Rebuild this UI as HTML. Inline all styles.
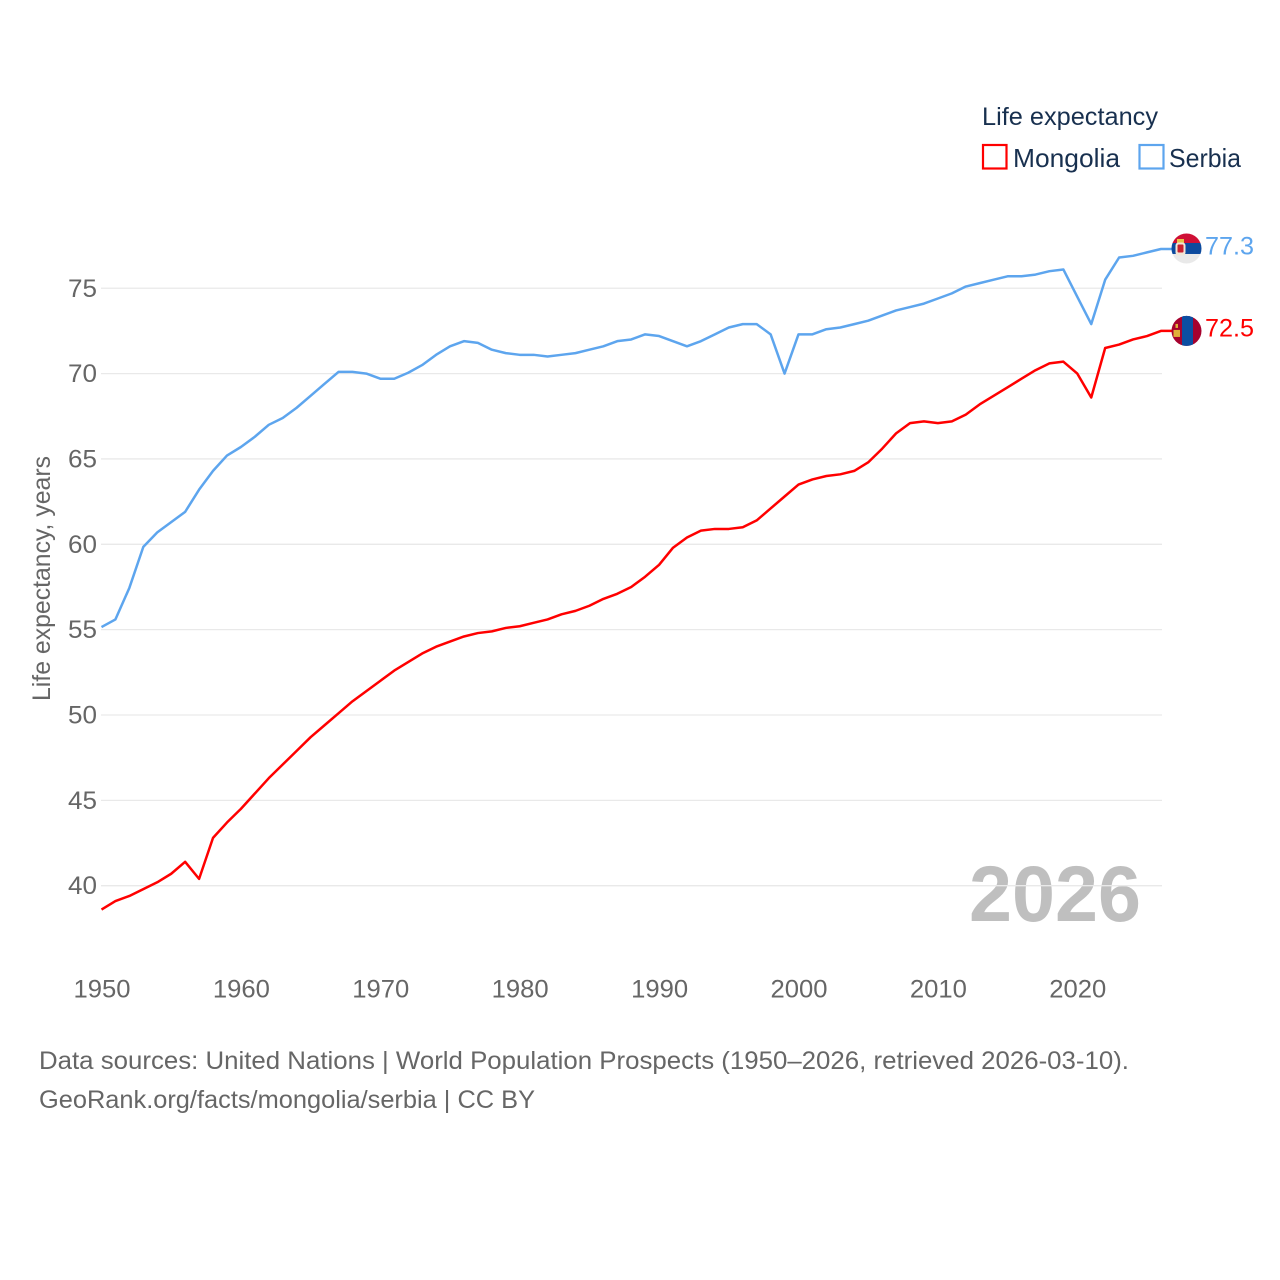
<!DOCTYPE html>
<html lang="en">
<head>
<meta charset="utf-8">
<title>Life expectancy: Mongolia and Serbia</title>
<style>
html,body{margin:0;padding:0;background:#fff;width:1280px;height:1280px;overflow:hidden}
svg{display:block}
text{font-family:"Liberation Sans",sans-serif}
</style>
</head>
<body>
<svg id="chart" xmlns="http://www.w3.org/2000/svg" width="1280" height="1280" viewBox="0 0 1280 1280">
  <defs>
    <clipPath id="clip-serbia"><circle id="clip-serbia-circle" r="15" cx="0" cy="0"/></clipPath>
    <clipPath id="clip-mongolia"><circle id="clip-mongolia-circle" r="15" cx="0" cy="0"/></clipPath>
  </defs>
  <rect width="1280" height="1280" fill="#fff"/>

  <g>
    <text x="982" y="125" font-size="25" fill="#18304f" textLength="176" lengthAdjust="spacingAndGlyphs">Life expectancy</text>
    <rect x="983" y="145" width="23.5" height="23.5" fill="#fff" stroke="#ff0000" stroke-width="2.2"/>
    <text x="1013" y="167" font-size="26" fill="#18304f" textLength="107" lengthAdjust="spacingAndGlyphs">Mongolia</text>
    <rect x="1139.500" y="145" width="24" height="23.5" fill="#fff" stroke="#5da5ee" stroke-width="2.2"/>
    <text x="1169" y="167" font-size="26" fill="#18304f" textLength="72" lengthAdjust="spacingAndGlyphs">Serbia</text>
  </g>

  <text x="969" y="921" font-size="79" font-weight="700" fill="#000" fill-opacity="0.25" textLength="172" lengthAdjust="spacingAndGlyphs">2026</text>

  <g id="grid"></g>
  <g id="y-ticks"></g>
  <g id="x-ticks"></g>

  <text transform="translate(50,701) rotate(-90)" x="0" y="0" font-size="25" fill="#666" textLength="245" lengthAdjust="spacingAndGlyphs">Life expectancy, years</text>

  <g id="series"></g>
  <g id="flags"></g>
  <g id="end-labels"></g>

  <text x="39" y="1069" font-size="25" fill="#666" textLength="1090" lengthAdjust="spacingAndGlyphs">Data sources: United Nations | World Population Prospects (1950–2026, retrieved 2026-03-10).</text>
  <text x="39" y="1108" font-size="25" fill="#666" textLength="496" lengthAdjust="spacingAndGlyphs">GeoRank.org/facts/mongolia/serbia | CC BY</text>
</svg>
<script>
const startYear = 1950;
const yTicks = [40, 45, 50, 55, 60, 65, 70, 75];
const xTicks = [1950, 1960, 1970, 1980, 1990, 2000, 2010, 2020];
const mongolia = [38.6,39.1,39.4,39.8,40.2,40.7,41.4,40.4,42.8,43.7,44.5,45.4,46.3,47.1,47.9,48.7,49.4,50.1,50.8,51.4,52.0,52.6,53.1,53.6,54.0,54.3,54.6,54.8,54.9,55.1,55.2,55.4,55.6,55.9,56.1,56.4,56.8,57.1,57.5,58.1,58.8,59.8,60.4,60.8,60.9,60.9,61.0,61.4,62.1,62.8,63.5,63.8,64.0,64.1,64.3,64.8,65.6,66.5,67.1,67.2,67.1,67.2,67.6,68.2,68.7,69.2,69.7,70.2,70.6,70.7,70.0,68.6,71.5,71.7,72.0,72.2,72.5];
const serbia = [55.15,55.6,57.45,59.85,60.7,61.3,61.9,63.2,64.3,65.2,65.7,66.3,67.0,67.4,68.0,68.7,69.4,70.1,70.1,70.0,69.7,69.7,70.05,70.5,71.1,71.6,71.9,71.8,71.4,71.2,71.1,71.1,71.0,71.1,71.2,71.4,71.6,71.9,72.0,72.3,72.2,71.9,71.6,71.9,72.3,72.7,72.9,72.9,72.3,70.0,72.3,72.3,72.6,72.7,72.9,73.1,73.4,73.7,73.9,74.1,74.4,74.7,75.1,75.3,75.5,75.7,75.7,75.8,76.0,76.1,74.5,72.9,75.5,76.8,76.9,77.1,77.3];
const mongoliaEndLabel = "72.5";
const serbiaEndLabel = "77.3";

const NS = 'http://www.w3.org/2000/svg';
function xScale(year) { return 101.5 + (year - startYear) * 13.94; }
function yScale(v) { return 885.7 - (v - 40) * 17.07; }
function make(tag, attrs, parent) {
  const el = document.createElementNS(NS, tag);
  for (const k in attrs) el.setAttribute(k, attrs[k]);
  parent.appendChild(el);
  return el;
}
const grid = document.getElementById('grid');
const yG = document.getElementById('y-ticks');
const xG = document.getElementById('x-ticks');
const seriesG = document.getElementById('series');
const flagsG = document.getElementById('flags');
const labelsG = document.getElementById('end-labels');

yTicks.forEach(function (t) {
  const line = make('line', {x1: 101, x2: 1162, y1: yScale(t), y2: yScale(t), stroke: '#e9e9e9', 'stroke-width': 1.3}, grid);
  
  
  const label = make('text', {x: 68, y: yScale(t) + 8.5, 'font-size': 25, fill: '#666', textLength: 29, lengthAdjust: 'spacingAndGlyphs'}, yG);
  
  
  label.textContent = String(t);
});

xTicks.forEach(function (t) {
  const label = make('text', {x: xScale(t) - 28, y: 997.5, 'font-size': 25, fill: '#666', textLength: 57, lengthAdjust: 'spacingAndGlyphs'}, xG);
  
  
  label.textContent = String(t);
});

function drawSeries(values, colour, name) {
  const pts = values.map(function (v, i) {
    return xScale(startYear + i).toFixed(2) + ',' + yScale(v).toFixed(2);
  });
  const lastY = yScale(values[values.length - 1]);
  pts.push('1174,' + lastY.toFixed(2));
  const line = make('polyline', {points: pts.join(' '), fill: 'none', stroke: colour, 'stroke-width': 2.5, 'stroke-linejoin': 'round'}, seriesG);
  
  
  return lastY;
}
const serbiaY = drawSeries(serbia, '#5da5ee', 'serbia');
const mongoliaY = drawSeries(mongolia, '#ff0000', 'mongolia');

function endLabel(text, y, colour, name) {
  const label = make('text', {x: 1205, y: y + 5.5, 'font-size': 25, fill: colour, textLength: 49, lengthAdjust: 'spacingAndGlyphs'}, labelsG);
  
  
  label.textContent = text;
}
endLabel(serbiaEndLabel, serbiaY, '#5da5ee', 'serbia');
endLabel(mongoliaEndLabel, mongoliaY, '#ff0000', 'mongolia');

function flagGroup(name, clip, cy) {
  const g = make('g', {transform: 'translate(1186.5,' + cy.toFixed(2) + ')', 'clip-path': 'url(#' + clip + ')'}, flagsG);
  
  
  return g;
}
const sf = flagGroup('serbia', 'clip-serbia', serbiaY - 0.5);
make('rect', {x: -15, y: -15, width: 30, height: 9.5, fill: '#cf0f35'}, sf);
make('rect', {x: -15, y: -5.5, width: 30, height: 11, fill: '#0c4a9e'}, sf);
make('rect', {x: -15, y: 5.5, width: 30, height: 10, fill: '#e9e9e9'}, sf);
make('rect', {x: -9.5, y: -9.5, width: 7, height: 4, fill: '#e8c34a'}, sf);
make('rect', {x: -11, y: -6, width: 10, height: 13, rx: 3, fill: '#f1e6d6'}, sf);
make('rect', {x: -9, y: -4, width: 6, height: 8, rx: 1, fill: '#c8202f'}, sf);

const mf = flagGroup('mongolia', 'clip-mongolia', mongoliaY);
make('rect', {x: -15, y: -16, width: 30, height: 32, fill: '#a6022e'}, mf);
make('rect', {x: -4.5, y: -16, width: 11, height: 32, fill: '#0b4ea2'}, mf);
make('rect', {x: -13, y: -1, width: 6.5, height: 7, fill: '#e0b03a'}, mf);
make('rect', {x: -11, y: -7, width: 2.5, height: 4, fill: '#e0b03a'}, mf);
</script>
</body>
</html>
